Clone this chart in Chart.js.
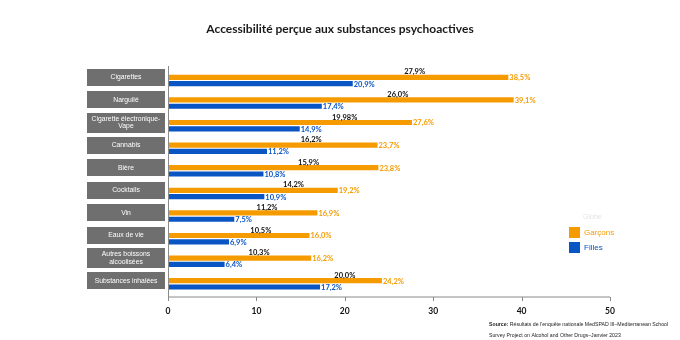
<!DOCTYPE html>
<html>
<head>
<meta charset="utf-8">
<script src="https://cdn.jsdelivr.net/npm/chart.js@4/dist/chart.umd.min.js"></script>
<style>
html,body{margin:0;padding:0;background:#fff;}
canvas{display:block;}
</style>
</head>
<body>
<canvas id="c" width="680" height="340"></canvas>
<script>
const categories = [
  'Cigarettes',
  'Narguilé',
  ['Cigarette électronique-', 'Vape'],
  'Cannabis',
  'Bière',
  'Cocktails',
  'Vin',
  'Eaux de vie',
  ['Autres boissons', 'alcoolisées'],
  'Substances inhalées'
];
const globalValues = [27.9, 26.0, 19.98, 16.2, 15.9, 14.2, 11.2, 10.5, 10.3, 20.0];
const garconsValues = [38.5, 39.1, 27.6, 23.7, 23.8, 19.2, 16.9, 16.0, 16.2, 24.2];
const fillesValues = [20.9, 17.4, 14.9, 11.2, 10.8, 10.9, 7.5, 6.9, 6.4, 17.2];
const xTicks = [0, 10, 20, 30, 40, 50];
const titleText = 'Accessibilité perçue aux substances psychoactives';
const legendTitle = 'Globe';
const sourceLines = ["Résultats de l'enquête nationale MedSPAD III–Mediterranean School", 'Survey Project on Alcohol and Other Drugs–Janvier 2023'];

const ORANGE = '#F59B00';
const BLUE = '#0A55C4';

function fmt(v) {
  const s = (Math.round(v * 10) === v * 10) ? v.toFixed(1) : String(v);
  return s.replace('.', ',') + '%';
}

const decorPlugin = {
  id: 'decor',
  afterDraw(chart) {
    const ctx = chart.ctx;
    const area = chart.chartArea;
    const xs = chart.scales.x;
    const ys = chart.scales.y;
    ctx.save();
    // title
    ctx.fillStyle = '#1a1a1a';
    ctx.font = 'bold 12px Lato';
    ctx.textAlign = 'center';
    ctx.textBaseline = 'middle';
    ctx.fillText(titleText, 340, 29);

    // axis lines
    const axisY = area.bottom + 5;
    ctx.strokeStyle = '#8a8a8a';
    ctx.lineWidth = 1;
    ctx.beginPath();
    ctx.moveTo(area.left + 0.5, area.top);
    ctx.lineTo(area.left + 0.5, axisY);
    ctx.lineTo(area.right, axisY);
    ctx.stroke();
    xTicks.forEach(t => {
      const px = Math.round(xs.getPixelForValue(t)) + 0.5;
      ctx.beginPath();
      ctx.moveTo(px, axisY);
      ctx.lineTo(px, axisY + 4);
      ctx.stroke();
    });

    // category boxes
    categories.forEach((c, i) => {
      const cy = ys.getPixelForValue(i);
      const lines = Array.isArray(c) ? c : [c];
      const h = lines.length > 1 ? 20 : 17;
      ctx.fillStyle = '#6f6f6f';
      ctx.fillRect(87, Math.round(cy - h / 2), 78, h);
      ctx.fillStyle = '#ffffff';
      ctx.font = '6.8px "Liberation Sans"';
      ctx.textAlign = 'center';
      ctx.textBaseline = 'middle';
      lines.forEach((l, k) => {
        const off = (k - (lines.length - 1) / 2) * 7.5;
        ctx.fillText(l, 126, cy + off);
      });
    });

    // legend
    ctx.textAlign = 'left';
    ctx.textBaseline = 'middle';
    ctx.font = '7px "Liberation Sans"';
    ctx.fillStyle = '#e4e4e4';
    ctx.fillText(legendTitle, 583, 217);
    ctx.fillStyle = ORANGE;
    ctx.fillRect(569, 227, 11, 11);
    ctx.font = '8px "Liberation Sans"';
    ctx.fillText(chart.data.datasets[1].label, 584, 233);
    ctx.fillStyle = BLUE;
    ctx.fillRect(569, 242, 11, 11);
    ctx.fillText(chart.data.datasets[2].label, 584, 248);

    // source
    ctx.fillStyle = '#222';
    ctx.font = 'bold 5.2px "Liberation Sans"';
    ctx.fillText('Source:', 489, 325);
    const w = ctx.measureText('Source: ').width;
    ctx.font = '5.2px "Liberation Sans"';
    ctx.fillText(sourceLines[0], 489 + w, 325);
    ctx.fillText(sourceLines[1], 489, 336);
    ctx.restore();
  },
  afterDatasetsDraw(chart) {
    const ctx = chart.ctx;
    ctx.save();
    ctx.font = 'bold 7.5px Lato';
    ctx.textBaseline = 'middle';
    chart.data.datasets.forEach((ds, di) => {
      const meta = chart.getDatasetMeta(di);
      meta.data.forEach((el, i) => {
        const v = ds.data[i];
        if (di === 0) {
          ctx.fillStyle = '#111';
          ctx.textAlign = 'center';
          ctx.fillText(fmt(v), el.x, el.y + 1);
        } else {
          ctx.fillStyle = di === 1 ? ORANGE : BLUE;
          ctx.textAlign = 'left';
          ctx.fillText(fmt(v), el.x + 1, el.y + 0.5);
        }
      });
    });
    ctx.restore();
  }
};

new Chart(document.getElementById('c'), {
  type: 'bar',
  data: {
    labels: categories,
    datasets: [
      { label: 'Global', data: globalValues, backgroundColor: 'rgba(0,0,0,0)' },
      { label: 'Garçons', data: garconsValues, backgroundColor: ORANGE },
      { label: 'Filles', data: fillesValues, backgroundColor: BLUE }
    ]
  },
  options: {
    indexAxis: 'y',
    responsive: false,
    animation: false,
    devicePixelRatio: 1,
    categoryPercentage: 0.84,
    barPercentage: 0.82,
    layout: { padding: { left: 0, right: 70, top: 66, bottom: 0 } },
    plugins: {
      legend: { display: false },
      title: { display: false },
      tooltip: { enabled: false }
    },
    scales: {
      x: {
        min: 0, max: 50,
        afterFit(s) { s.height = 48; },
        afterBuildTicks(s) { s.ticks = xTicks.map(v => ({ value: v })); },
        grid: { display: false, drawTicks: false },
        border: { display: false },
        ticks: { padding: 14, color: '#111', font: { family: 'Lato', weight: 'bold', size: 8.5 } }
      },
      y: {
        afterFit(s) { s.width = 168; },
        grid: { display: false, drawTicks: false },
        border: { display: false },
        ticks: { display: false }
      }
    }
  },
  plugins: [decorPlugin]
});
</script>
</body>
</html>
